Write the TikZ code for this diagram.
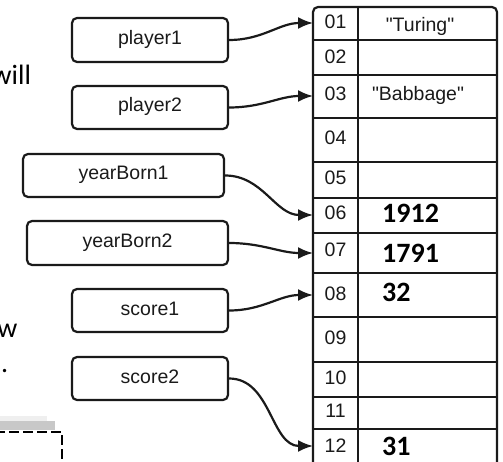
\documentclass[tikz,border=0pt]{standalone}
\usepackage{fontspec}
\setmainfont{Liberation Sans}[Ligatures=TeXOff]
\newfontfamily\calib{Carlito}
\usetikzlibrary{arrows.meta}
\definecolor{ink}{HTML}{1A1A1A}
\definecolor{lgray}{HTML}{EFEFEF}
\definecolor{dgray}{HTML}{C8C8C8}
\begin{document}
\begin{tikzpicture}[x=1pt,y=-1pt,
  varbox/.style={draw=ink, line width=2.2pt, rounded corners=5pt, inner sep=0pt,
    text height=13.5pt, text depth=4.5pt, font=\fontsize{19.5}{22}\selectfont, text=ink},
  link/.style={draw=ink, line width=2.2pt, -{Latex[length=15pt,width=12pt]}, out=0, in=180},
  grid/.style={draw=ink, line width=2.2pt},
  lbl/.style={font=\fontsize{19.5}{22}\selectfont, text=ink, inner sep=0pt, anchor=base},
  big/.style={font=\calib\bfseries\fontsize{28}{30}\selectfont, text=black, inner sep=0pt, anchor=base west},
  side/.style={font=\calib\fontsize{28}{30}\selectfont, text=black, inner sep=0pt}
]
\useasboundingbox (0,0) rectangle (503,462);
\clip (0,0) rectangle (503,462);

% text fragments at the left (cut off by the picture's edge)
\node[side, anchor=base west] (t1) at (-8.5,85) {will};
\node[side, anchor=base east] (t2) at (17.5,337) {w};
\node[side, anchor=base west] (t3) at (1,372) {.};

% gray bars and dashed box
\fill[lgray] (0,416) rectangle (47,421);
\fill[dgray] (0,421) rectangle (55,430);
\draw[black, line width=2.5pt, dash pattern=on 10pt off 4pt, dash phase=5pt] (0,432) -- (62,432) -- (62,470);

% variable boxes
\node[varbox, minimum width=156pt, minimum height=44pt] (player1) at (150,40) {player1};
\node[varbox, minimum width=156pt, minimum height=43pt] (player2) at (150,107.5) {player2};
\node[varbox, minimum width=201pt, minimum height=43pt] (yearBorn1) at (123.5,175.5) {yearBorn1};
\node[varbox, minimum width=201pt, minimum height=44pt] (yearBorn2) at (127.5,243) {yearBorn2};
\node[varbox, minimum width=156pt, minimum height=43pt] (score1) at (150,310.5) {score1};
\node[varbox, minimum width=156pt, minimum height=43pt] (score2) at (150,378.5) {score2};

% memory table
\draw[grid, rounded corners=5pt] (313,470) -- (313,7) -- (497,7) -- (497,470);
\foreach \yy in {40,75,118,162,198,233,273,317,362,397,429}
  \draw[grid] (313,\yy) -- (497,\yy);
\draw[grid] (358,7) -- (358,470);

% address labels
\node[lbl] (n01) at (335.5,28.5) {01};
\node[lbl] (n02) at (335.5,64) {02};
\node[lbl] (n03) at (335.5,100.5) {03};
\node[lbl] (n04) at (335.5,145) {04};
\node[lbl] (n05) at (335.5,185) {05};
\node[lbl] (n06) at (335.5,220) {06};
\node[lbl] (n07) at (335.5,257) {07};
\node[lbl] (n08) at (335.5,300) {08};
\node[lbl] (n09) at (335.5,344) {09};
\node[lbl] (n10) at (335.5,384) {10};
\node[lbl] (n11) at (335.5,417) {11};
\node[lbl] (n12) at (335.5,452) {12};

% values
\node[lbl] (v01) at (420,32) {"Turing"};
\node[lbl] (v03) at (418,101) {"Babbage"};
\node[big] (v06) at (382,223) {1912};
\node[big] (v07) at (382,263) {1791};
\node[big] (v08) at (382,301.5) {32};
\node[big] (v12) at (382,455) {31};

% arrow targets on the table's left edge
\coordinate (m01) at (313,23);
\coordinate (m03) at (313,96);
\coordinate (m06) at (313,215);
\coordinate (m07) at (313,253);
\coordinate (m08) at (313,295);
\coordinate (m12) at (313,446);

% connectors
\draw[link] (player1.east) to (m01);
\draw[link] (player2.east) to (m03);
\draw[link] (yearBorn1.east) to (m06);
\draw[link] (yearBorn2.east) to (m07);
\draw[link] (score1.east) to (m08);
\draw[link] (score2.east) to (m12);
\end{tikzpicture}
\end{document}
